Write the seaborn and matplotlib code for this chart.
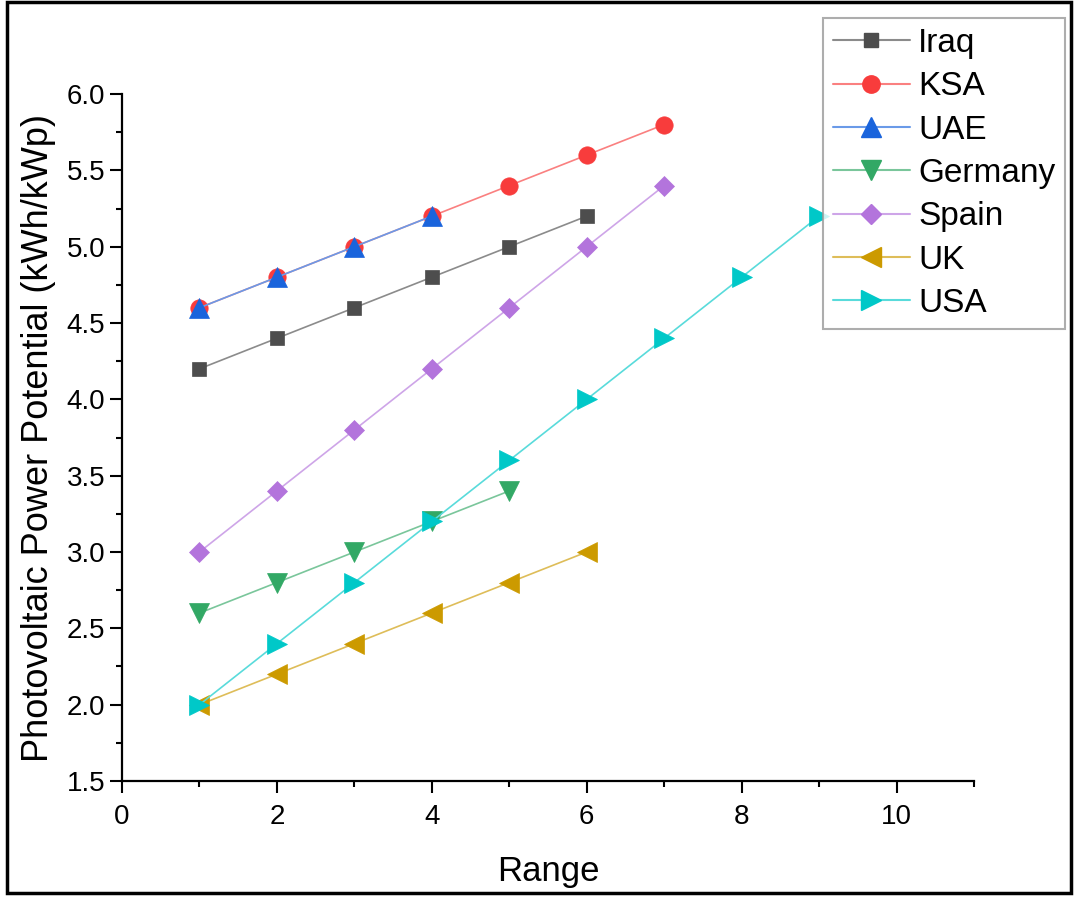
import matplotlib
matplotlib.use("Agg")
import matplotlib.pyplot as plt
from matplotlib.lines import Line2D
from matplotlib.patches import Rectangle
from matplotlib.ticker import MultipleLocator
from matplotlib.colors import to_rgb
import seaborn as sns
import pandas as pd

sns.set_style("ticks")
plt.rcParams["font.family"] = ["Liberation Sans", "DejaVu Sans"]
plt.rcParams["text.color"] = "black"
plt.rcParams["axes.labelcolor"] = "black"
plt.rcParams["xtick.color"] = "black"
plt.rcParams["ytick.color"] = "black"

# data
countries = ["Iraq", "KSA", "UAE", "Germany", "Spain", "UK", "USA"]
iraq = [4.2, 4.4, 4.6, 4.8, 5.0, 5.2]
ksa = [4.6, 4.8, 5.0, 5.2, 5.4, 5.6, 5.8]
uae = [4.6, 4.8, 5.0, 5.2]
germany = [2.6, 2.8, 3.0, 3.2, 3.4]
spain = [3.0, 3.4, 3.8, 4.2, 4.6, 5.0, 5.4]
uk = [2.0, 2.2, 2.4, 2.6, 2.8, 3.0]
usa = [2.0, 2.4, 2.8, 3.2, 3.6, 4.0, 4.4, 4.8, 5.2]
valores = [iraq, ksa, uae, germany, spain, uk, usa]

colores = ["#4d4d4d", "#f83c3c", "#1a64dc", "#32a865", "#b374dc", "#cc9a00", "#00c8c8"]
marcadores = ["s", "o", "^", "v", "D", "<", ">"]
tamanos = [10.5, 12.5, 14, 14, 10.5, 14, 14]


def aclarar(c, f=0.35):
    r, g, b = to_rgb(c)
    return (r + (1 - r) * f, g + (1 - g) * f, b + (1 - b) * f)


fig = plt.figure(figsize=(10.76, 8.98), dpi=100)
ax = fig.add_axes([0.1134, 0.1303, 0.7918, 0.765])

for pais, ys, c, m, s in zip(countries, valores, colores, marcadores, tamanos):
    df = pd.DataFrame({"x": range(1, len(ys) + 1), "y": ys})
    sns.lineplot(data=df, x="x", y="y", ax=ax, color=aclarar(c), lw=1.2)
    ax.plot(df["x"], df["y"], ls="none", marker=m, ms=s, color=c, mec=c, mew=0.5)

ax.set_xlim(0, 11)
ax.set_ylim(1.5, 6.0)
ax.xaxis.set_major_locator(MultipleLocator(2))
ax.xaxis.set_minor_locator(MultipleLocator(1))
ax.yaxis.set_major_locator(MultipleLocator(0.5))
ax.yaxis.set_minor_locator(MultipleLocator(0.25))
ax.tick_params(which="major", length=8.5, width=1.5, labelsize=20, direction="out")
ax.tick_params(which="minor", length=4.5, width=1.5, direction="out")
ax.tick_params(axis="x", pad=8)
ax.set_xticks([0, 2, 4, 6, 8, 10])
ax.set_xticklabels(["0", "2", "4", "6", "8", "10"])
ax.set_yticks([1.5, 2.0, 2.5, 3.0, 3.5, 4.0, 4.5, 5.0, 5.5, 6.0])
ax.set_yticklabels([f"{v:.1f}" for v in ax.get_yticks()])
for lado in ["top", "right"]:
    ax.spines[lado].set_visible(False)
for lado in ["left", "bottom"]:
    ax.spines[lado].set_linewidth(1.6)
    ax.spines[lado].set_color("black")
ax.set_xlabel("Range", fontsize=25, labelpad=18)
ax.set_ylabel("Photovoltaic Power Potential (kWh/kWp)", fontsize=26, labelpad=8)

handles = [
    Line2D([0], [0], color=aclarar(c), lw=1.5, marker=m, ms=s,
           markerfacecolor=c, markeredgecolor=c)
    for c, m, s in zip(colores, marcadores, tamanos)
]
leg = fig.legend(handles, countries, loc="upper left", bbox_to_anchor=(823 / 1076, 1 - 18 / 898),
                 fontsize=24, frameon=True, fancybox=False, handlelength=2.3,
                 labelspacing=0.37, borderpad=0.3, handletextpad=0.25, borderaxespad=0)
leg.get_frame().set_edgecolor("#999999")
leg.get_frame().set_linewidth(1.5)
leg.set_zorder(10)

fig.patches.append(Rectangle((7 / 1076, 5 / 898), 1064 / 1076, 891 / 898,
                             transform=fig.transFigure, fill=False, lw=2.5, ec="black"))

fig.savefig("out.png", dpi=100)
